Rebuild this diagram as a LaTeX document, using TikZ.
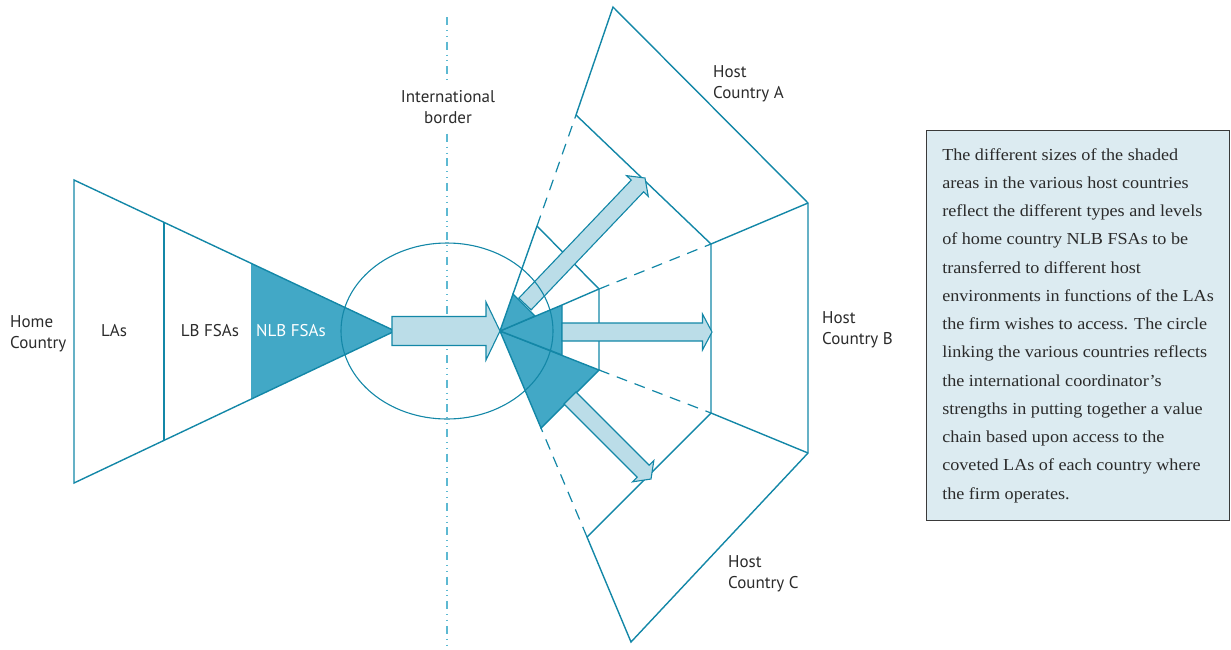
\documentclass[tikz,border=0pt]{standalone}
\usepackage{fontspec}
\usepackage{tikz}
\usetikzlibrary{calc,shapes.geometric}

\newfontfamily\labelsans{PT Sans}
\newfontfamily\noteserif[FakeStretch=1.08]{Liberation Serif}

\definecolor{tealline}{HTML}{1387A7}
\definecolor{fsablue}{HTML}{42A8C6}
\definecolor{arrowblue}{HTML}{BBDDE8}
\definecolor{borderblue}{HTML}{5DB9D2}
\definecolor{notefill}{HTML}{DCEBF1}
\definecolor{noteline}{HTML}{3A3A3A}
\definecolor{labelgray}{HTML}{2B2B2B}

% fat block arrow: tail, tip, shaft half width, head half width, head length
\newcommand{\fatarrow}[5]{%
  \coordinate (fa-base) at ($(#2)!#5!(#1)$);
  \draw[fwd] ($(#1)!#3!90:(#2)$) -- ($(fa-base)!#3!90:(#2)$)
    -- ($(fa-base)!#4!90:(#2)$) -- (#2)
    -- ($(fa-base)!#4!-90:(#2)$) -- ($(fa-base)!#3!-90:(#2)$)
    -- ($(#1)!#3!-90:(#2)$) -- cycle;}

\begin{document}
\begin{tikzpicture}[
    x=1pt, y=-1pt,
    zone/.style={draw=tealline, line width=1.4pt, line join=miter},
    fsa/.style={zone, fill=fsablue},
    gapline/.style={draw=tealline, line width=1.2pt, dash pattern=on 11pt off 8pt},
    fwd/.style={draw=tealline, line width=1.1pt, fill=arrowblue, line join=miter},
    lbl/.style={font=\labelsans\fontsize{17}{21.5}\selectfont, text=labelgray, inner sep=0pt, align=left},
    border/.style={draw=borderblue, line width=1.8pt,
        dash pattern=on 8pt off 5pt on 0.8pt off 5pt on 0.8pt off 5pt},
    note/.style={draw=noteline, line width=1.1pt, fill=notefill, text=labelgray,
        font=\noteserif\fontsize{16.8}{28.25}\selectfont, align=left,
        minimum width=303pt, minimum height=390pt, inner sep=0pt}
]
\useasboundingbox (0,0) rectangle (1231,649);

% === Home country wedge ===
\coordinate (hT) at (74,180);
\coordinate (hB) at (74,483);
\coordinate (hA) at (395,331);
\coordinate (lbT) at ($(hT)!0.2804!(hA)$);
\coordinate (lbB) at ($(hB)!0.2804!(hA)$);
\coordinate (nlbT) at ($(hT)!0.5514!(hA)$);
\coordinate (nlbB) at ($(hB)!0.5514!(hA)$);

\fill[fsablue] (nlbT) -- (hA) -- (nlbB) -- cycle;
\draw[zone] (hT) -- (hA) -- (hB) -- cycle;
\draw[zone] (lbT) -- (lbB);

\node[lbl, anchor=north west] (home) at (10,315) {Home\\Country};
\node[lbl] (las) at (114,331) {LAs};
\node[lbl] (lbfsa) at (210,331) {LB FSAs};
\node[lbl, text=white] (nlbfsa) at (291,331) {NLB FSAs};

% === International border ===
\coordinate (bTop) at (447,17);
\coordinate (bBot) at (447,645);
\node[lbl, align=center, anchor=north, outer ysep=10pt] (intl) at (448,80) {International\\border};
\draw[border] (bTop) -- (bTop |- intl.north);
\draw[border] (bTop |- intl.south) -- (bBot);

% === Host country fan ===
\coordinate (F) at (500,331);
% left ray of A
\coordinate (a1) at (513,294);
\coordinate (a2) at (537,226);
\coordinate (a3) at (576,115);
\coordinate (a4) at (613,7);
% ray between A and B
\coordinate (ab0) at (535,316);
\coordinate (ab1) at (562,305);
\coordinate (ab2) at (599,289);
\coordinate (ab3) at (711,244);
\coordinate (ab4) at (808,203);
% ray between B and C
\coordinate (bc1) at (562,355);
\coordinate (bc2) at (599,370);
\coordinate (bc3) at (711,413);
\coordinate (bc4) at (808,453);
% right ray of C
\coordinate (c2) at (541,428);
\coordinate (c3) at (587,537);
\coordinate (c4) at (631,642);

% transferred NLB FSAs
\draw[fsa] (F) -- (bc2) -- (c2) -- cycle;
\draw[fsa] (F) -- (ab1) -- (bc1) -- cycle;
\draw[fsa] (F) -- (a1) -- (ab0) -- cycle;

% rays
\draw[zone] (a1) -- (a2);
\draw[gapline] (a2) -- (a3);
\draw[zone] (ab1) -- (ab2);
\draw[gapline] (ab2) -- (ab3);
\draw[gapline] (bc2) -- (bc3);
\draw[gapline] (c3) -- (c2);

% rings
\draw[zone] (a2) -- (ab2) -- (bc2);
\draw[zone] (a3) -- (ab3) -- (bc3) -- (c3);
\draw[zone] (c3) -- (c4) -- (bc4) -- (ab4) -- (a4) -- (a3);
\draw[zone] (ab3) -- (ab4);
\draw[zone] (bc3) -- (bc4);

\node[lbl, anchor=north west] (hostA) at (713,65) {Host\\Country A};
\node[lbl, anchor=north west] (hostB) at (822,311) {Host\\Country B};
\node[lbl, anchor=north west] (hostC) at (728,555) {Host\\Country C};

% === Transfer arrows ===
\coordinate (mt) at (392,331);
\coordinate (at) at (525,304);
\coordinate (ah) at (645,178);
\coordinate (bt) at (562,332);
\coordinate (bh) at (712,332);
\coordinate (ct) at (570,398);
\coordinate (ch) at (651,479);

\fatarrow{mt}{F}{14.5pt}{29pt}{14pt}
\fatarrow{at}{ah}{8.5pt}{15pt}{11pt}
\fatarrow{bt}{bh}{9pt}{18pt}{9.5pt}
\fatarrow{ct}{ch}{8.5pt}{15pt}{11pt}

% coordinator circle
\node[ellipse, draw=tealline, line width=1.1pt, minimum width=212pt, minimum height=176pt, inner sep=0pt] (coord) at (447,331) {};

% === Note ===
\node[note, anchor=north west] (note) at (926,130) {%
The different sizes of the shaded\\
areas in the various host countries\\
reflect the different types and levels\\
of home country NLB FSAs to be\\
transferred to different host\\
environments in functions of the LAs\\
the firm wishes to access. The circle\\
linking the various countries reflects\\
the international coordinator’s\\
strengths in putting together a value\\
chain based upon access to the\\
coveted LAs of each country where\\
the firm operates.};

\end{tikzpicture}
\end{document}
